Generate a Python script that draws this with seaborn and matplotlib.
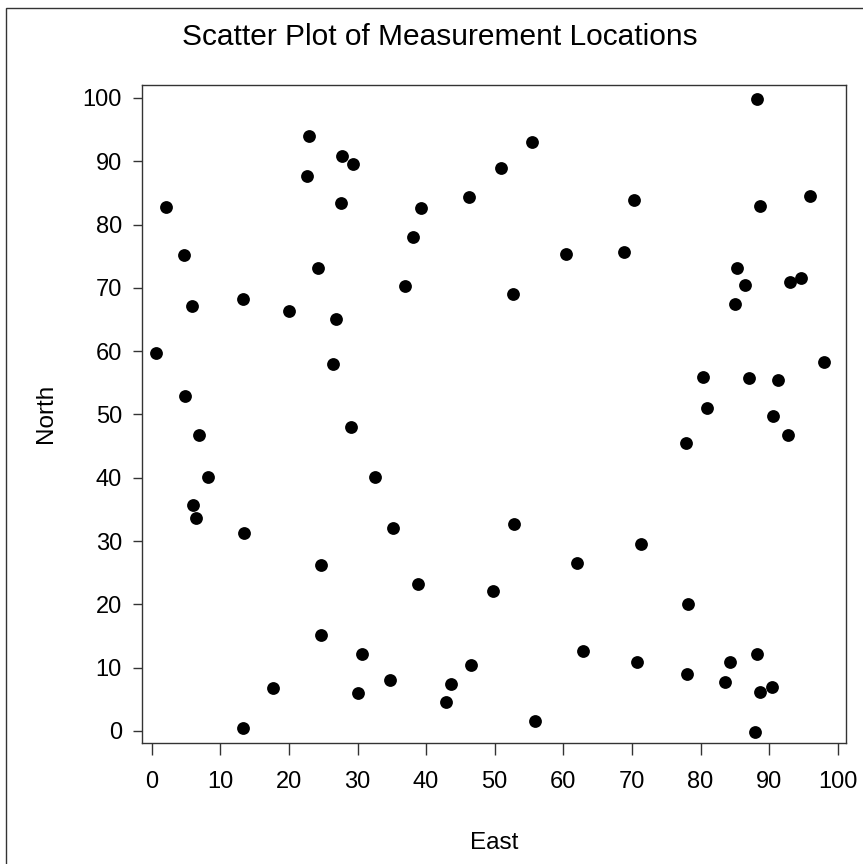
import matplotlib
matplotlib.use("Agg")
import matplotlib.pyplot as plt
import seaborn as sns
import pandas as pd
from matplotlib.patches import Rectangle

# ---- data ----
east = [0.7, 2.1, 4.7, 5.9, 4.85, 13.3, 20.0, 22.6, 22.9, 27.8, 29.4, 27.6, 24.2, 26.8, 26.4,
        36.9, 38.1, 39.3, 88.2, 55.4, 50.9, 46.3, 70.3, 88.6, 96.0, 60.4, 68.8, 52.7, 85.3,
        86.5, 85.0, 93.1, 94.6, 98.0, 80.4, 87.0, 91.3, 80.9, 6.9, 8.2, 6.0, 6.4, 13.4, 29.05,
        32.6, 35.2, 24.7, 38.8, 24.7, 30.7, 30.0, 34.7, 17.7, 13.3, 43.6, 42.9, 46.6, 49.8,
        52.8, 55.9, 62.0, 62.9, 71.3, 70.7, 77.9, 90.5, 92.7, 78.2, 78.0, 83.6, 84.3, 88.2,
        88.7, 90.4, 87.9]
north = [59.7, 82.8, 75.2, 67.2, 52.9, 68.3, 66.4, 87.7, 94.0, 90.9, 89.5, 83.4, 73.1, 65.1, 58.0,
         70.3, 78.0, 82.7, 99.8, 93.0, 88.9, 84.3, 83.9, 83.0, 84.5, 75.3, 75.7, 69.0, 73.1,
         70.5, 67.4, 71.0, 71.6, 58.3, 56.0, 55.8, 55.5, 51.1, 46.7, 40.1, 35.7, 33.7, 31.3, 48.0,
         40.2, 32.0, 26.3, 23.3, 15.1, 12.1, 6.0, 8.0, 6.8, 0.5, 7.5, 4.6, 10.5, 22.1,
         32.7, 1.5, 26.5, 12.7, 29.5, 10.9, 45.5, 49.7, 46.8, 20.0, 9.0, 7.8, 10.9, 12.1,
         6.1, 6.95, -0.1]
ticks = [0, 10, 20, 30, 40, 50, 60, 70, 80, 90, 100]
title = "Scatter Plot of Measurement Locations"
xlabel = "East"
ylabel = "North"

df = pd.DataFrame({"East": east, "North": north})

sns.set_theme(style="white")
plt.rcParams["font.family"] = ["Liberation Sans", "DejaVu Sans"]

W, H = 863, 864
fig = plt.figure(figsize=(W / 100, H / 100), dpi=100)
fig.patch.set_facecolor("white")

# outer frame
fig.add_artist(Rectangle((5.5 / W, -0.1), 1.2, 1 - 8 / H + 0.1, transform=fig.transFigure,
                         fill=False, edgecolor="#333333", linewidth=1.0))

L, R, T, B = 142, 846, 84.7, 742.7
ax = fig.add_axes([L / W, 1 - B / H, (R - L) / W, (B - T) / H])
sns.scatterplot(data=df, x="East", y="North", ax=ax, color="black", s=85, linewidth=0)

ax.set_xlim(-1.41, 101.2)
ax.set_ylim(-1.85, 102.1)
ax.set_xticks(ticks)
ax.set_yticks(ticks)
ax.set_xticklabels([str(t) for t in ticks])
ax.set_yticklabels([str(t) for t in ticks])

for s in ax.spines.values():
    s.set_visible(True)
    s.set_color("#333333")
    s.set_linewidth(1.0)

ax.tick_params(axis="x", direction="out", length=8.5, width=1.0, color="#333333",
               pad=12, labelsize=17, labelcolor="black", bottom=True)
ax.tick_params(axis="y", direction="out", length=6.5, width=1.0, color="#333333",
               pad=8, labelsize=17, labelcolor="black", left=True)

ax.set_xlabel(xlabel, fontsize=17.5, color="black")
ax.set_ylabel(ylabel, fontsize=17.5, color="black")
ax.xaxis.label.set_va("baseline")
ax.xaxis.set_label_coords(0.5, (B - 849.3) / (B - T))
ax.yaxis.label.set_va("baseline")
ax.yaxis.set_label_coords((51.7 - L) / (R - L), 0.5)

fig.text(440 / W, 1 - 45 / H, title, ha="center", va="baseline", fontsize=21.5, color="black")

fig.savefig("out.png", dpi=100, facecolor="white")
